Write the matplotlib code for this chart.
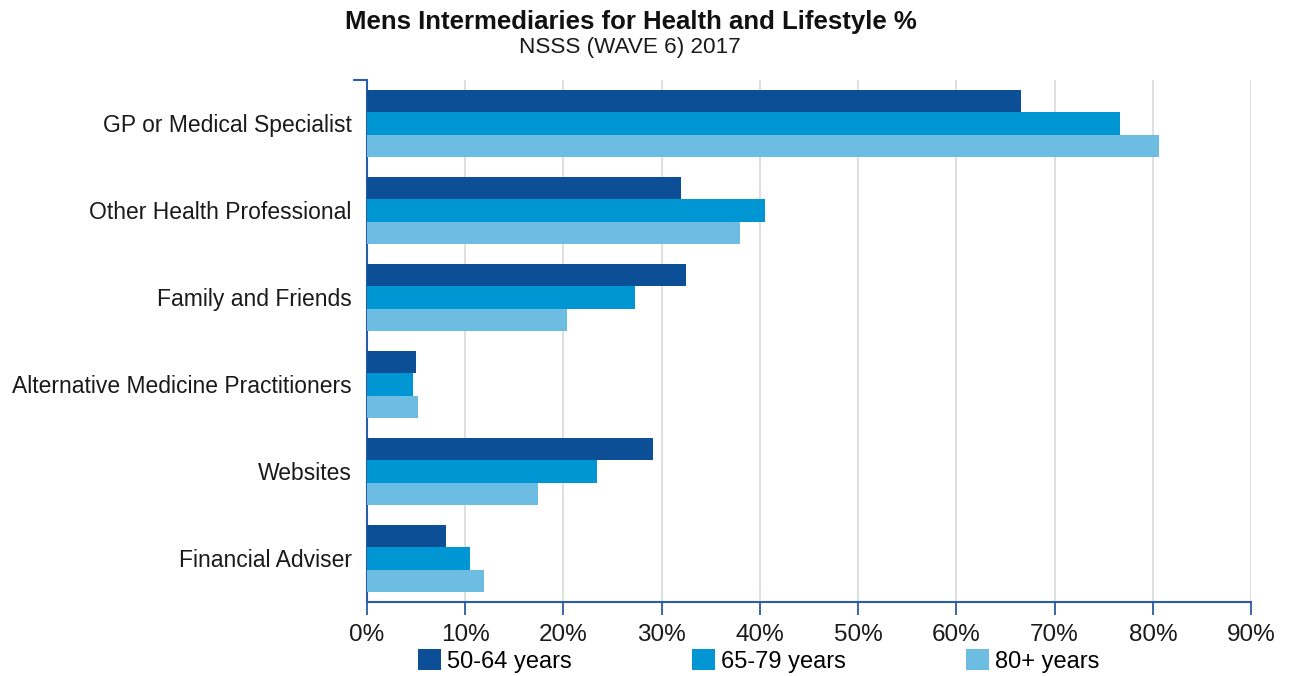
import numpy as np
import matplotlib
matplotlib.use('Agg')
import matplotlib.pyplot as plt
from matplotlib.patches import Patch

plt.rcParams['font.family'] = ['Liberation Sans', 'DejaVu Sans']

# Survey data (percent of men using each intermediary)
categories = ['GP or Medical Specialist', 'Other Health Professional', 'Family and Friends',
              'Alternative Medicine Practitioners', 'Websites', 'Financial Adviser']
series_names = ['50-64 years', '65-79 years', '80+ years']
age_50_64 = [66.6, 32.0, 32.5, 5.0, 29.1, 8.0]
age_65_79 = [76.7, 40.5, 27.3, 4.7, 23.4, 10.5]
age_80_plus = [80.6, 38.0, 20.4, 5.2, 17.4, 11.9]
x_ticks = [0, 10, 20, 30, 40, 50, 60, 70, 80, 90]

colors = ['#0D4F97', '#0095D3', '#6DBDE3']
axis_blue = '#2B5CA6'
text_col = '#1A1A1A'

fig = plt.figure(figsize=(12.9, 6.76), dpi=100)
ax = fig.add_axes([0.2845, 0.1095, 0.6853, 0.7722])

y = np.arange(len(categories))
h = 0.26
for k, vals in enumerate([age_50_64, age_65_79, age_80_plus]):
    ax.barh(y + (k - 1) * h, vals, height=h, color=colors[k], zorder=3)

ax.set_ylim(len(categories) - 0.5, -0.5)
ax.set_xlim(0, 90)

ax.set_yticks(y)
ax.set_yticklabels(categories, fontsize=16.5, color=text_col)
ax.tick_params(axis='y', length=0, pad=11)
ax.set_yticks([-0.5], minor=True)
ax.tick_params(axis='y', which='minor', length=10, width=1.5, color=axis_blue)

ax.set_xticks(x_ticks)
ax.set_xticklabels([f'{t}%' for t in x_ticks], fontsize=17.5, color=text_col)
ax.tick_params(axis='x', length=9.5, width=1.3, color=axis_blue, pad=6.5)
ax.xaxis.grid(True, color='#D9D9D9', linewidth=1.2, zorder=0)

for side in ['top', 'right']:
    ax.spines[side].set_visible(False)
for side in ['left', 'bottom']:
    ax.spines[side].set_color(axis_blue)
    ax.spines[side].set_linewidth(1.5)
ax.set_axisbelow(True)

fig.text(0.489, 0.968, 'Mens Intermediaries for Health and Lifestyle %', ha='center', va='center',
         fontsize=18.5, fontweight='bold', color='#111111')
fig.text(0.488, 0.930, 'NSSS (WAVE 6) 2017', ha='center', va='center', fontsize=16.2, color=text_col)

handles = [Patch(facecolor=c, edgecolor='none') for c in colors]
fig.legend(handles, series_names, loc='center left', bbox_to_anchor=(0.324, 0.022), ncol=3,
           frameon=False, fontsize=17, handlelength=0.97, handleheight=0.97, handletextpad=0.25,
           columnspacing=5.1, borderaxespad=0, borderpad=0)

fig.savefig('out.png', dpi=100)
